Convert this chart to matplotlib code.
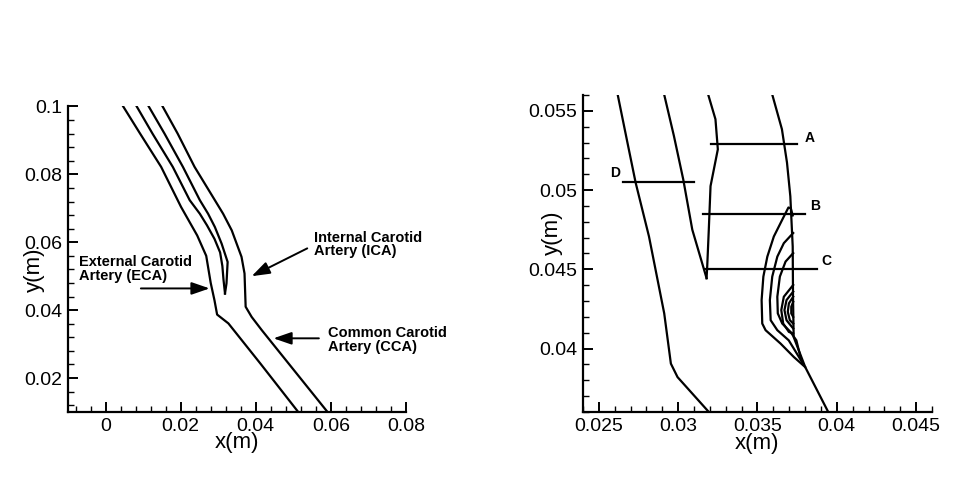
import matplotlib
matplotlib.use("Agg")
import matplotlib.pyplot as plt
from matplotlib.ticker import MultipleLocator

plt.rcParams['font.family'] = ['Liberation Sans', 'DejaVu Sans']

# ---- whole bifurcation (left panel) ----
eca_outer_x = [0.0047, 0.0092, 0.0148, 0.0201, 0.0244, 0.0268, 0.0280, 0.0290, 0.0297, 0.0327, 0.0412, 0.0513]
eca_outer_y = [0.100, 0.092, 0.0822, 0.0704, 0.0620, 0.0560, 0.0480, 0.0429, 0.0387, 0.0361, 0.0243, 0.0100]

eca_inner_x = [0.0083, 0.0125, 0.0179, 0.0224, 0.0251, 0.0270, 0.0290, 0.0305, 0.0311, 0.0314, 0.0318]
eca_inner_y = [0.100, 0.092, 0.0822, 0.0724, 0.0684, 0.0650, 0.0610, 0.0570, 0.0530, 0.0490, 0.0449]

ica_inner_x = [0.0318, 0.0322, 0.0325, 0.0309, 0.0291, 0.0273, 0.0251, 0.0206, 0.0157, 0.0115]
ica_inner_y = [0.0449, 0.0479, 0.0542, 0.0596, 0.0645, 0.0684, 0.0724, 0.0822, 0.092, 0.100]

ica_outer_x = [0.0152, 0.0192, 0.0237, 0.0291, 0.0313, 0.0336, 0.0362, 0.0370, 0.0373, 0.0389, 0.0416, 0.0591]
ica_outer_y = [0.100, 0.092, 0.0822, 0.0724, 0.0684, 0.0635, 0.0557, 0.0508, 0.0410, 0.0380, 0.0341, 0.0100]

# ---- close-up of the bifurcation (right panel) ----
z_eca_outer_x = [0.02617, 0.0268, 0.02732, 0.02816, 0.02912, 0.02954, 0.02996, 0.03195]
z_eca_outer_y = [0.0561, 0.0530, 0.05046, 0.04707, 0.04222, 0.03905, 0.0382, 0.03598]

z_eca_inner_x = [0.0291, 0.02973, 0.03032, 0.03089, 0.03179]
z_eca_inner_y = [0.0561, 0.05342, 0.05067, 0.0475, 0.04444]

z_ica_inner_x = [0.03179, 0.03183, 0.03193, 0.03204, 0.0325, 0.03235, 0.03187]
z_ica_inner_y = [0.04444, 0.04517, 0.0475, 0.05025, 0.05257, 0.05447, 0.0561]

z_ica_outer_x = [0.03591, 0.03654, 0.03686, 0.03707, 0.03722, 0.03724, 0.03728, 0.03801, 0.03947]
z_ica_outer_y = [0.0561, 0.05384, 0.05173, 0.04961, 0.04644, 0.04327, 0.04073, 0.03883, 0.03598]

# recirculation contours next to the ICA outer wall
rc1_x = [0.03722, 0.0371, 0.03695, 0.03656, 0.03603, 0.03562, 0.03537, 0.03526, 0.0353, 0.03551, 0.03645, 0.03729, 0.03801]
rc1_y = [0.0484, 0.04885, 0.0489, 0.04813, 0.04707, 0.0458, 0.04454, 0.04306, 0.04158, 0.04116, 0.04032, 0.03947, 0.03883]
rc2_x = [0.03725, 0.03666, 0.03625, 0.03593, 0.03578, 0.03583, 0.03625, 0.03697, 0.0379]
rc2_y = [0.04729, 0.04665, 0.0458, 0.04454, 0.04306, 0.04179, 0.04116, 0.04052, 0.0390]
rc3_x = [0.03725, 0.03677, 0.03641, 0.03625, 0.03628, 0.03656, 0.03708, 0.03745, 0.03775]
rc3_y = [0.04602, 0.04549, 0.04454, 0.04327, 0.04222, 0.04158, 0.04105, 0.04052, 0.0393]
rc4_x = [0.03725, 0.03666, 0.0365, 0.03662, 0.03698, 0.03725]
rc4_y = [0.04401, 0.04327, 0.04243, 0.04158, 0.04105, 0.04095]
rc5_x = [0.03725, 0.03683, 0.0367, 0.03683, 0.03725]
rc5_y = [0.04359, 0.04306, 0.04243, 0.04179, 0.04127]
rc6_x = [0.03725, 0.03698, 0.03691, 0.03704, 0.03725]
rc6_y = [0.04327, 0.04285, 0.04232, 0.04179, 0.04158]
rc7_x = [0.03725, 0.03713, 0.03713, 0.03725]
rc7_y = [0.04295, 0.04264, 0.04222, 0.042]

# sampling cross-sections A-D
cut_names = ['A', 'B', 'C', 'D']
cut_y = [0.05292, 0.04848, 0.0450, 0.0505]
cut_x0 = [0.03204, 0.03155, 0.03172, 0.02655]
cut_x1 = [0.03748, 0.03800, 0.03878, 0.03099]
cut_label_x = [0.03832, 0.03863, 0.03936, 0.0260]
cut_label_y = [0.0533, 0.0490, 0.0455, 0.0511]

LW = 1.6


def style_axes(ax, major_x, minor_x, major_y, minor_y):
    ax.spines['top'].set_visible(False)
    ax.spines['right'].set_visible(False)
    for s in ('left', 'bottom'):
        ax.spines[s].set_linewidth(1.6)
    ax.xaxis.set_major_locator(MultipleLocator(major_x))
    ax.xaxis.set_minor_locator(MultipleLocator(minor_x))
    ax.yaxis.set_major_locator(MultipleLocator(major_y))
    ax.yaxis.set_minor_locator(MultipleLocator(minor_y))
    ax.tick_params(which='major', direction='in', length=7, width=1.4, labelsize=14, pad=4)
    ax.tick_params(which='minor', direction='in', length=4, width=1.0)
    ax.xaxis.set_major_formatter(plt.FuncFormatter(lambda v, p: '0' if abs(v) < 1e-9 else f'{v:g}'))
    ax.yaxis.set_major_formatter(plt.FuncFormatter(lambda v, p: f'{v:g}'))
    ax.set_facecolor('none')


fig = plt.figure(figsize=(9.8, 4.86), dpi=100)

# left panel
ax1 = fig.add_axes([0.0694, 0.1523, 0.3449, 0.6286])
for xs, ys in [(eca_outer_x, eca_outer_y), (eca_inner_x, eca_inner_y),
               (ica_inner_x, ica_inner_y), (ica_outer_x, ica_outer_y)]:
    ax1.plot(xs, ys, color='black', lw=LW)
ax1.set_xlim(-0.01, 0.08)
ax1.set_ylim(0.01, 0.1)
style_axes(ax1, 0.02, 0.004, 0.02, 0.004)
ax1.text(0.5, -0.10, 'x(m)', transform=ax1.transAxes, fontsize=16, ha='center', va='center')
ax1.text(-0.098, 0.465, 'y(m)', transform=ax1.transAxes, fontsize=16, ha='center', va='center', rotation=90)

note_kw = dict(fontsize=10.5, fontweight='bold', ha='left', va='center', linespacing=0.95)
arrow_kw = dict(arrowstyle='-|>,head_length=1.1,head_width=0.38', color='black', lw=1.4,
                shrinkA=0, shrinkB=0)
ax1.text(0.0555, 0.0594, 'Internal Carotid\nArtery (ICA)', **note_kw)
ax1.annotate('', xy=(0.0389, 0.0500), xytext=(0.0537, 0.0582), arrowprops=arrow_kw)
ax1.text(-0.0072, 0.0521, 'External Carotid\nArtery (ECA)', **note_kw)
ax1.annotate('', xy=(0.0277, 0.0464), xytext=(0.0094, 0.0464), arrowprops=arrow_kw)
ax1.text(0.0591, 0.0312, 'Common Carotid\nArtery (CCA)', **note_kw)
ax1.annotate('', xy=(0.0447, 0.0317), xytext=(0.0568, 0.0317), arrowprops=arrow_kw)

# right panel
ax2 = fig.add_axes([0.5949, 0.1523, 0.3561, 0.6523])
for xs, ys in [(z_eca_outer_x, z_eca_outer_y), (z_eca_inner_x, z_eca_inner_y),
               (z_ica_inner_x, z_ica_inner_y), (z_ica_outer_x, z_ica_outer_y)]:
    ax2.plot(xs, ys, color='black', lw=LW)
for xs, ys in [(rc1_x, rc1_y), (rc2_x, rc2_y), (rc3_x, rc3_y), (rc4_x, rc4_y),
               (rc5_x, rc5_y), (rc6_x, rc6_y), (rc7_x, rc7_y)]:
    ax2.plot(xs, ys, color='black', lw=LW)
for name, y, x0, x1, lx, ly in zip(cut_names, cut_y, cut_x0, cut_x1, cut_label_x, cut_label_y):
    ax2.plot([x0, x1], [y, y], color='black', lw=LW)
    ax2.text(lx, ly, name, fontsize=10, fontweight='bold', ha='center', va='center')
ax2.set_xlim(0.024, 0.046)
ax2.set_ylim(0.036, 0.056)
style_axes(ax2, 0.005, 0.001, 0.005, 0.001)
ax2.text(0.4986, -0.10, 'x(m)', transform=ax2.transAxes, fontsize=16, ha='center', va='center')
ax2.text(-0.089, 0.565, 'y(m)', transform=ax2.transAxes, fontsize=16, ha='center', va='center', rotation=90)

fig.savefig('out.png', dpi=100, facecolor='white')
